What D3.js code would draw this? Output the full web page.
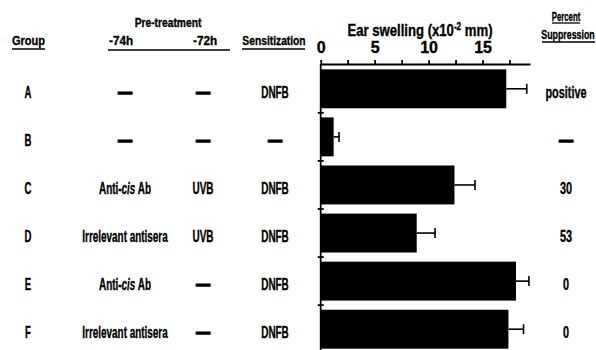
<!DOCTYPE html>
<html>
<head>
<meta charset="utf-8">
<script src="https://cdn.jsdelivr.net/npm/d3@7"></script>
<style>
body { margin: 0; background: #fff; }
text { font-family: "Liberation Sans", Arial, sans-serif; font-weight: bold; fill: #000; stroke: #000; stroke-width: 0.35px; }
</style>
</head>
<body>
<div id="chart"></div>
<script>
// table data
var groups = ["A", "B", "C", "D", "E", "F"];
var pre74h = ["—", "—", "Anti-cis Ab", "Irrelevant antisera", "Anti-cis Ab", "Irrelevant antisera"];
var pre72h = ["—", "—", "UVB", "UVB", "—", "—"];
var sensitization = ["DNFB", "—", "DNFB", "DNFB", "DNFB", "DNFB"];
var swelling = [17.2, 1.2, 12.4, 8.9, 18.1, 17.4];
var swellingErr = [1.9, 0.5, 1.9, 1.7, 1.2, 1.4];
var suppression = ["positive", "—", "30", "53", "0", "0"];
var labelTicks = [0, 5, 10, 15];
var minorTicks = [0, 2.5, 5, 7.5, 10, 12.5, 15, 17.5];

var svg = d3.select("#chart").append("svg")
			.attr("width", 596)
			.attr("height", 350)
			.style("background", "#fff");

var xScale = d3.scaleLinear()
				.domain([0, 19.4])
				.range([320.7, 530]);

var yScale = d3.scaleBand()
				.domain(groups)
				.range([65, 353])
				.paddingInner(0.19)
				.paddingOuter(0.09);

// squeezed text helper
function label(x, y, str, size, sx) {
	var t = svg.append("text")
		.attr("transform", "translate(" + x + "," + y + ") scale(" + sx + ",1)")
		.attr("text-anchor", "middle")
		.style("font-size", size + "px")
		.text(str);
	if (str === "—") {
		// heavy short dash like the original
		t.attr("transform", "translate(" + x + "," + y + ") scale(0.85,1)")
			.style("stroke-width", 1.6);
	}
	return t;
}

function underline(x1, x2, y) {
	svg.append("line")
		.attr("x1", x1).attr("x2", x2)
		.attr("y1", y).attr("y2", y)
		.style("stroke", "#000")
		.style("stroke-width", 1.3);
}

// headers
label(28.5, 45, "Group", 13, 0.85);
underline(12, 45, 49);
label(168, 27, "Pre-treatment", 13, 0.79);
label(121, 45, "-74h", 13, 0.9);
label(205, 45, "-72h", 13, 0.9);
underline(108, 230, 50);
label(274, 45, "Sensitization", 13, 0.79);
underline(242, 305, 49);
label(566, 21, "Percent", 13, 0.6);
underline(552, 580, 23);
label(568, 39, "Suppression", 13, 0.68);
underline(542, 595, 42);

var title = svg.append("text")
	.attr("transform", "translate(420,36) scale(0.82,1)")
	.attr("text-anchor", "middle")
	.style("font-size", "16px");
title.append("tspan").text("Ear swelling (x10");
title.append("tspan").attr("dy", -6).style("font-size", "10px").text("-2");
title.append("tspan").attr("dy", 6).text(" mm)");

// table rows
var rowY = function(d) { return yScale(d) + yScale.bandwidth() / 2 + 9; };

groups.forEach(function(g, i) {
	var y = rowY(g);
	label(28, y, g, 16, 0.6);
	var t = label(125, y, "", 16, 0.62);
	if (pre74h[i].indexOf("-cis") >= 0) {
		t.append("tspan").text("Anti-");
		t.append("tspan").style("font-style", "italic").text("cis");
		t.append("tspan").text(" Ab");
	} else {
		t.text(pre74h[i]);
		if (pre74h[i] === "—") {
			t.attr("transform", "translate(125," + y + ") scale(0.85,1)")
				.style("stroke-width", 1.6);
		}
	}
	label(203, y, pre72h[i], 16, 0.62);
	label(275, y, sensitization[i], 16, 0.62);
	label(566, y, suppression[i], 16, 0.68);
});

// bars
svg.selectAll("rect.bar")
	.data(groups)
	.enter().append("rect")
		.attr("class", "bar")
		.attr("x", xScale(0))
		.attr("y", function(d) { return yScale(d); })
		.attr("width", function(d, i) { return xScale(swelling[i]) - xScale(0); })
		.attr("height", yScale.bandwidth())
		.style("fill", "#000");

// error bars
var errs = svg.append("g").style("stroke", "#000").style("stroke-width", 1.6);
groups.forEach(function(g, i) {
	var cy = yScale(g) + yScale.bandwidth() / 2;
	errs.append("line")
		.attr("x1", xScale(swelling[i])).attr("x2", xScale(swelling[i] + swellingErr[i]))
		.attr("y1", cy).attr("y2", cy);
	errs.append("line")
		.attr("x1", xScale(swelling[i] + swellingErr[i])).attr("x2", xScale(swelling[i] + swellingErr[i]))
		.attr("y1", cy - 5).attr("y2", cy + 5);
});

// top axis
var axisG = svg.append("g")
	.attr("transform", "translate(0," + 64 + ")")
	.call(d3.axisTop(xScale).tickValues(minorTicks).tickSize(4).tickSizeOuter(0).tickFormat(""));
axisG.selectAll("path, line").style("stroke", "#000").style("stroke-width", 1.8);

svg.append("g")
	.attr("transform", "translate(0," + 64 + ")")
	.call(d3.axisTop(xScale).tickValues(labelTicks).tickSize(0).tickPadding(11))
	.call(function(g) { g.select(".domain").remove(); })
	.selectAll("text")
		.style("font-family", "'Liberation Sans', Arial, sans-serif")
		.style("font-size", "16px")
		.style("font-weight", "bold");

// left axis with band boundary ticks
svg.append("line")
	.attr("x1", xScale(0)).attr("x2", xScale(0))
	.attr("y1", 64).attr("y2", 350)
	.style("stroke", "#000").style("stroke-width", 1.8);
svg.selectAll("line.btick")
	.data(groups.slice(1))
	.enter().append("line")
		.attr("class", "btick")
		.attr("x1", xScale(0) - 3).attr("x2", xScale(0) + 3)
		.attr("y1", function(d) { return yScale(d) - yScale.step() * yScale.paddingInner() / 2; })
		.attr("y2", function(d) { return yScale(d) - yScale.step() * yScale.paddingInner() / 2; })
		.style("stroke", "#000").style("stroke-width", 1.8);
</script>
</body>
</html>
